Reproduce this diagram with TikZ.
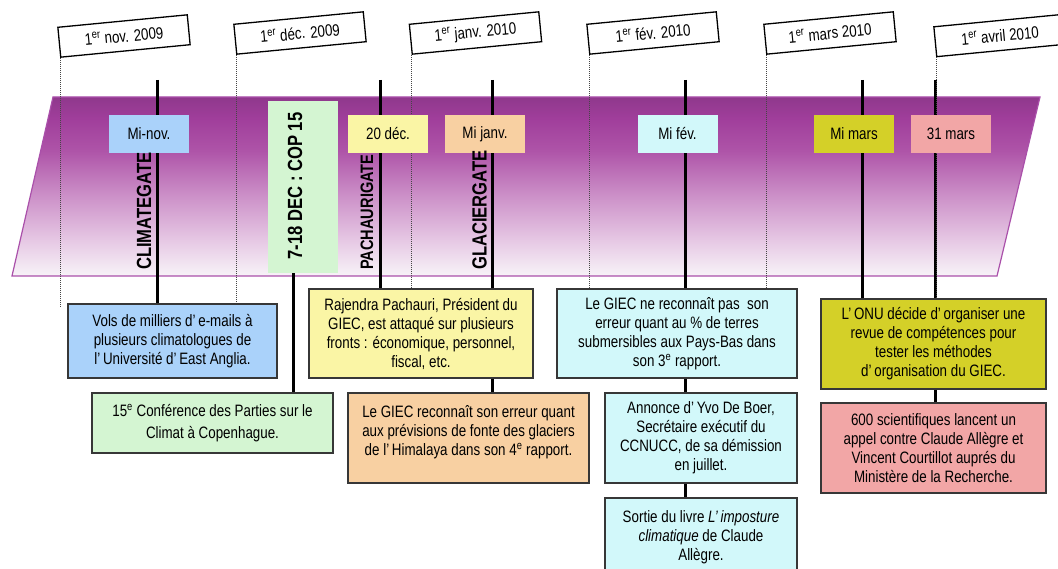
\documentclass[tikz,border=0pt]{standalone}
\usepackage{fontspec}
\setmainfont{Liberation Sans}[FakeStretch=0.81]
\usetikzlibrary{calc}
\definecolor{bb0}{RGB}{248,243,248}
\definecolor{bb1}{RGB}{230,200,228}
\definecolor{bb2}{RGB}{204,144,200}
\definecolor{bb3}{RGB}{174,84,168}
\definecolor{bb4}{RGB}{160,62,155}
\definecolor{bb5}{RGB}{143,56,140}
\definecolor{bannerborder}{RGB}{170,80,170}
\definecolor{cblue}{RGB}{170,210,250}
\definecolor{cgreen}{RGB}{212,245,210}
\definecolor{cyellow}{RGB}{250,245,165}
\definecolor{corange}{RGB}{248,208,162}
\definecolor{ccyan}{RGB}{210,248,250}
\definecolor{colive}{RGB}{212,208,40}
\definecolor{cpink}{RGB}{242,166,166}
\definecolor{boxline}{RGB}{55,55,55}
\definecolor{dotgray}{RGB}{70,70,70}
\pgfdeclareverticalshading{bannershade}{100bp}{color(0bp)=(bb0); color(25bp)=(bb0); color(35bp)=(bb1); color(47.5bp)=(bb2); color(60bp)=(bb3); color(69bp)=(bb4); color(75bp)=(bb5); color(100bp)=(bb5)}
\newcommand{\evfont}{\fontsize{16.5}{19}\selectfont}
\newcommand{\vfont}{\bfseries\fontsize{20.5}{22}\selectfont}
\begin{document}
\begin{tikzpicture}[x=1pt,y=-1pt,
  tab/.style={draw=black, line width=1.3pt, fill=white, minimum width=130pt, minimum height=30pt, inner sep=0pt, rotate=5.5, font=\evfont},
  topbox/.style={minimum width=80pt, minimum height=38pt, inner sep=0pt, font=\evfont},
  evbox/.style={draw=boxline, line width=1.5pt, align=center, inner sep=0pt, font=\evfont},
  vlab/.style={rotate=90, inner sep=0pt, font=\vfont, anchor=south west},
  vline/.style={line width=3pt, black},
  dotline/.style={line width=1.2pt, dotgray, dash pattern=on 1pt off 1pt}]
\useasboundingbox (0,0) rectangle (1058,569);
\clip (0,0) rectangle (1058,569);
% banner
\shade[shading=bannershade, draw=bannerborder, line width=1.2pt]
  (53,97) -- (1040,97) -- (997,276) -- (12,276) -- cycle;
% date tabs
\node[tab] (t1) at (124,36) {1\textsuperscript{er} nov. 2009};
\node[tab] (t2) at (300,33) {1\textsuperscript{er} déc. 2009};
\node[tab] (t3) at (475.5,33) {1\textsuperscript{er} janv. 2010};
\node[tab] (t4) at (653,33) {1\textsuperscript{er} fév. 2010};
\node[tab] (t5) at (830,33) {1\textsuperscript{er} mars 2010};
\node[tab] (t6) at (1000,35.5) {1\textsuperscript{er} avril 2010};
\coordinate (dbot) at (0,306);
\foreach \t in {t1,t2,t3,t4,t5,t6}
  \draw[dotline] (\t.south west) -- (\t.south west |- dbot);
% top points of the event lines
\coordinate (lA) at (157,80);
\coordinate (lB) at (380.5,80);
\coordinate (lC) at (492.5,80);
\coordinate (lD) at (685,80);
\coordinate (lE) at (862,80);
\coordinate (lF) at (935,80);
\coordinate (lG) at (293,273);
% event boxes
\node[evbox, fill=cblue, minimum width=209pt, minimum height=74pt] (blue) at (172.5,341)
  {Vols de milliers d’\,e-mails à\\plusieurs climatologues de\\l’\,Université d’\,East Anglia.};
\node[evbox, fill=cgreen, minimum width=241pt, minimum height=60pt] (green) at (212.5,423)
  {15\textsuperscript{e} Conférence des Parties sur le\\[3pt]Climat à Copenhague.};
\node[evbox, fill=cyellow, minimum width=224pt, minimum height=89pt] (yellow) at (421,333.5)
  {Rajendra Pachauri, Président du\\GIEC, est attaqué sur plusieurs\\fronts : économique, personnel,\\fiscal, etc.};
\node[evbox, fill=corange, minimum width=241pt, minimum height=90pt] (orange) at (468.5,438)
  {Le GIEC reconnaît son erreur quant\\aux prévisions de fonte des glaciers\\de l’\,Himalaya dans son 4\textsuperscript{e} rapport.\\[-4pt]\mbox{}};
\node[evbox, fill=ccyan, minimum width=240pt, minimum height=89pt] (cyan1) at (677,333.5)
  {Le GIEC ne reconnaît pas\ \ son\\erreur quant au \% de terres\\submersibles aux Pays-Bas dans\\son 3\textsuperscript{e} rapport.};
\node[evbox, fill=ccyan, minimum width=192pt, minimum height=90pt] (cyan2) at (701,438)
  {Annonce d’\,Yvo De Boer,\\Secrétaire exécutif du\\CCNUCC, de sa démission\\en juillet.};
\node[evbox, fill=ccyan, minimum width=192pt, minimum height=78pt] (cyan3) at (701,537)
  {Sortie du livre \textit{L’\,imposture}\\\textit{climatique} de Claude\\Allègre.};
\node[evbox, fill=colive, minimum width=225pt, minimum height=90pt] (olive) at (933.5,344)
  {L’\,ONU décide d’\,organiser une\\revue de compétences pour\\tester les méthodes\\d’\,organisation du GIEC.};
\node[evbox, fill=cpink, minimum width=225pt, minimum height=90pt] (pink) at (933.5,448)
  {600 scientifiques lancent un\\appel contre Claude Allègre et\\Vincent Courtillot auprés du\\Ministère de la Recherche.};
% event lines
\draw[vline] (lA) -- (lA |- blue.north);
\draw[vline] (lB) -- (lB |- yellow.north);
\draw[vline] (lC) -- (lC |- yellow.north);
\draw[vline] (lC |- yellow.south) -- (lC |- orange.north);
\draw[vline] (lD) -- (lD |- cyan1.north);
\draw[vline] (lD |- cyan1.south) -- (lD |- cyan2.north);
\draw[vline] (lD |- cyan2.south) -- (lD |- cyan3.north);
\draw[vline] (lE) -- (lE |- olive.north);
\draw[vline] (lF) -- (lF |- olive.north);
\draw[vline] (lF |- olive.south) -- (lF |- pink.north);
\draw[vline] (lG) -- (lG |- green.north);
\draw[dotline] (t6.south west) -- (t6.south west |- olive.north);
% top date boxes
\node[topbox, fill=cblue] (minov) at (149,134) {Mi-nov.};
\node[topbox, fill=cyellow] (dec20) at (388,134) {20 déc.};
\node[topbox, fill=corange] (mijanv) at (485,134) {Mi janv.};
\node[topbox, fill=ccyan] (mifev) at (677.5,134) {Mi fév.};
\node[topbox, fill=colive] (mimars) at (854,134) {Mi mars};
\node[topbox, fill=cpink] (mars31) at (951,134) {31 mars};
\node[fill=cgreen, minimum width=70pt, minimum height=172pt, inner sep=0pt] (cop) at (302.5,187) {};
\node[rotate=90, inner sep=0pt, font=\vfont] (coptxt) at (295,186) {7-18 DEC : COP 15};
% vertical scandal labels
\node[vlab] (climg) at (151.5,270) {CLIMATEGATE};
\node[vlab, font=\bfseries\fontsize{18}{20}\selectfont] (pachg) at (373.6,270) {PACHAURIGATE};
\node[vlab] (glacg) at (487,270) {GLACIERGATE};
\end{tikzpicture}
\end{document}
